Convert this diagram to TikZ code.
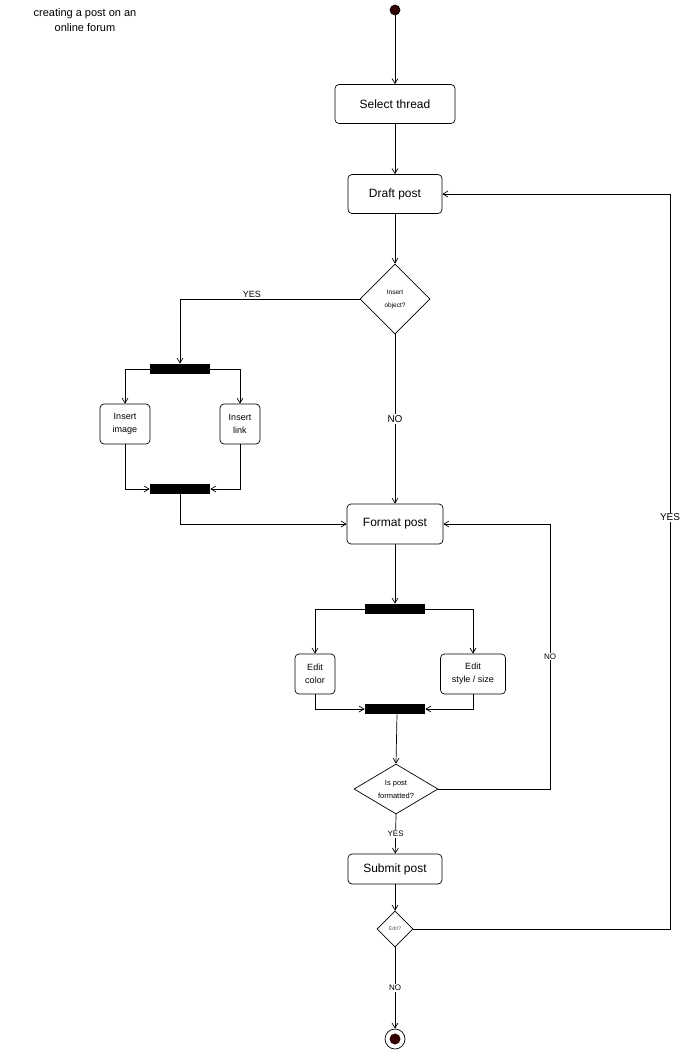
\documentclass[tikz,border=0pt]{standalone}
\usepackage{fontspec}
\setmainfont{Liberation Sans}
\usetikzlibrary{arrows.meta,shapes.geometric}
\definecolor{dotred}{HTML}{330000}
\tikzset{
  act/.style={draw,rounded corners=4pt,align=center,inner sep=2pt},
  bar/.style={fill=black,minimum width=60pt,minimum height=10pt,inner sep=0pt},
  dec/.style={draw,diamond,aspect=1,inner sep=0pt,align=center},
  flow/.style={-{Straight Barb[length=5pt,width=6pt]}},
  lab/.style={fill=white,inner sep=1pt,font=\fontsize{9}{11}\selectfont}
}
\begin{document}
\begin{tikzpicture}[x=1pt,y=-1pt,line width=0.7pt]
    \useasboundingbox (0,0) rectangle (685,1050);
    \node[align=center,font=\fontsize{11}{15}\selectfont] (title) at (85,20) {creating a post on an\\online forum};
    \node[circle,fill=dotred,draw=black,minimum size=10pt,inner sep=0pt] (start) at (395,10) {};
    \node[act,minimum width=120pt,minimum height=39pt,font=\fontsize{12}{14}\selectfont] (select) at (395,104) {Select thread};
    \node[act,minimum width=94pt,minimum height=39pt,font=\fontsize{12}{14}\selectfont] (draft) at (395,194) {Draft post};
    \node[dec,minimum width=70pt,minimum height=70pt,font=\fontsize{6.5}{13}\selectfont] (insq) at (395,299) {Insert\\object?};
    \node[bar] (fork1) at (180,369) {};
    \node[act,minimum width=50pt,minimum height=40pt,font=\fontsize{9}{13}\selectfont] (image) at (125,424) {Insert\\image};
    \node[act,minimum width=40pt,minimum height=40pt,font=\fontsize{9}{13}\selectfont] (link) at (240,424) {Insert\\link};
    \node[bar] (join1) at (180,489) {};
    \node[act,minimum width=96pt,minimum height=40pt,font=\fontsize{12}{14}\selectfont] (format) at (395,524) {Format post};
    \node[bar] (fork2) at (395,609) {};
    \node[act,minimum width=40pt,minimum height=40pt,font=\fontsize{9}{13}\selectfont] (color) at (315,674) {Edit\\color};
    \node[act,minimum width=65pt,minimum height=40pt,font=\fontsize{9}{13}\selectfont] (style) at (473,674) {Edit\\style / size};
    \node[bar] (join2) at (395,709) {};
    \node[dec,aspect=1.68,minimum width=84pt,minimum height=50pt,font=\fontsize{7.5}{13}\selectfont] (fmtq) at (396,789) {Is post\\formatted?};
    \node[act,minimum width=94pt,minimum height=30pt,font=\fontsize{12}{14}\selectfont] (submit) at (395,869) {Submit post};
    \node[dec,minimum width=36pt,minimum height=36pt,font=\fontsize{5.5}{7}\selectfont,text=black!60] (editq) at (395,929) {Edit?};
    \node[circle,draw,minimum size=20pt,inner sep=0pt] (end) at (395,1039) {};
    \node[circle,fill=dotred,minimum size=11pt,inner sep=0pt] (endin) at (395,1039) {};
    % main line
    \draw[flow] (start) -- (select);
    \draw[flow] (select) -- (draft);
    \draw[flow] (draft) -- (insq);
    \draw[flow] (insq.west) -| node[pos=0.3,above,lab] {YES} (fork1.north);
    \draw[flow] (insq.south) -- node[lab,font=\fontsize{10}{12}\selectfont] {NO} (format);
    % insert branch
    \draw[flow] (fork1.west) -| (image.north);
    \draw[flow] (fork1.east) -| (link.north);
    \draw[flow] (image.south) |- (join1.west);
    \draw[flow] (link.south) |- (join1.east);
    \draw[flow] (join1.south) |- (format.west);
    % format branch
    \draw[flow] (format) -- (fork2);
    \draw[flow] (fork2.west) -| (color.north);
    \draw[flow] (fork2.east) -| (style.north);
    \draw[flow] (color.south) |- (join2.west);
    \draw[flow] (style.south) |- (join2.east);
    \draw[flow] ([xshift=2pt]join2.south) -- (fmtq.north);
    \draw[flow] (fmtq.east) -- (550,789) |- node[pos=0.25,lab,font=\fontsize{8}{10}\selectfont] {NO} (format.east);
    \draw[flow] (fmtq.south) -- node[lab,font=\fontsize{8}{10}\selectfont] {YES} (submit);
    \draw[flow] (submit) -- (editq);
    \draw[flow] (editq.east) -- (670,929) |- node[pos=0.28,lab,font=\fontsize{10}{12}\selectfont] {YES} (draft.east);
    \draw[flow] (editq.south) -- node[lab,font=\fontsize{8}{10}\selectfont] {NO} (end);
  \end{tikzpicture}
\end{document}
